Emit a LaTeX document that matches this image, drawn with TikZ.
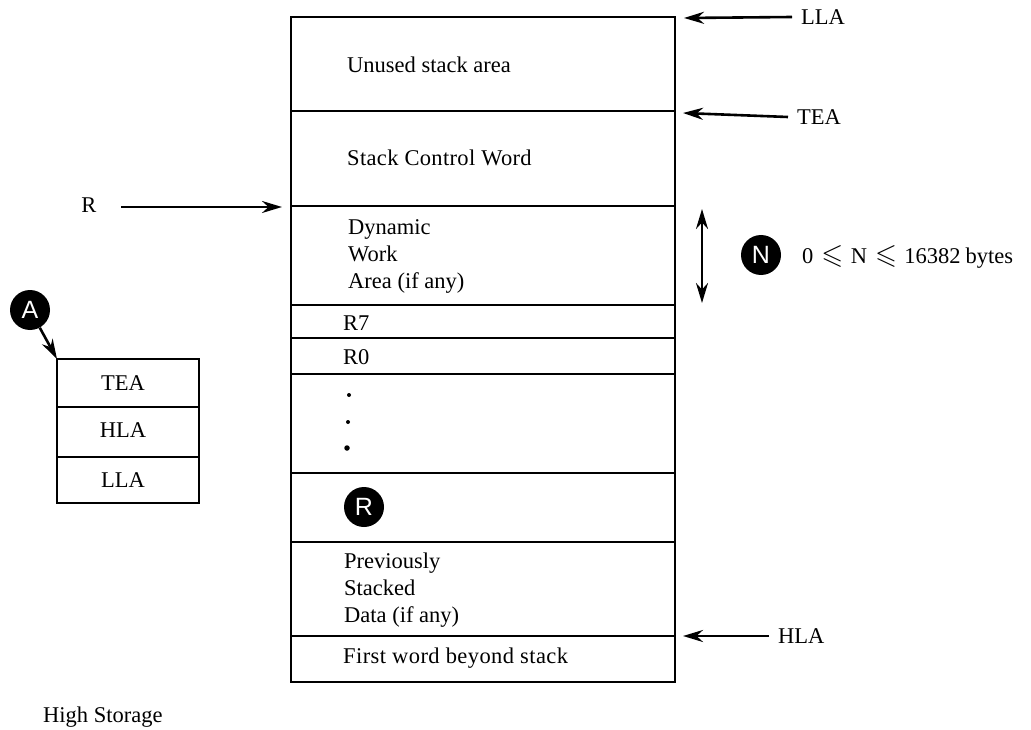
\documentclass[tikz,border=0pt]{standalone}
\usepackage{amssymb}
\usepackage{fontspec}
\setmainfont{Liberation Serif}
\setsansfont{Liberation Sans}
\usetikzlibrary{arrows.meta}
\usetikzlibrary{positioning}

\newcommand{\leqmark}{\hspace{8pt}\scalebox{1.25}{$\leqslant$}\hspace{7.5pt}}

\tikzset{
	cell/.style={draw, line width=1.8pt, rectangle, inner sep=0pt, outer sep=0pt, anchor=north west},
	label/.style={font=\fontsize{22.5}{27}\selectfont, inner sep=0pt},
	words/.style={label, anchor=west, align=left},
	tag/.style={circle, fill=black, text=white, inner sep=0pt, minimum size=40pt, font=\sffamily\fontsize{25}{25}\selectfont},
	spot/.style={circle, fill=black, inner sep=0pt},
	pointer/.style={-{Stealth[length=20pt, width=12pt]}, line width=2.6pt}
}

\begin{document}
\begin{tikzpicture}[x=1pt, y=-1pt]
	\useasboundingbox (0, 0) rectangle (1031, 730);

	% stack cells
	\foreach \name/\top/\high in {unused/17/94, control/111/95, work/206/99, rseven/305/33, rzero/338/36, dots/374/99, save/473/69, data/542/94, beyond/636/46}{
		\draw (291, \top) node[cell, minimum width=384pt, minimum height=\high pt] (\name) {};
	}

	\draw (347, 65) node[words] (unusedtext) {Unused stack area};
	\draw (347, 158) node[words] (controltext) {\addfontfeature{LetterSpace=1.5}Stack Control Word};
	\draw (348, 256) node[words] (worktext) {Dynamic\\Work\\Area (if any)};
	\draw (343, 323) node[words] (rseventext) {R7};
	\draw (343, 357) node[words] (rzerotext) {R0};
	\draw (344, 590) node[words] (datatext) {Previously\\Stacked\\Data (if any)};
	\draw (343, 658) node[words] (beyondtext) {\addfontfeature{LetterSpace=1.9}First word beyond stack};
	\foreach \x/\y/\size in {349/395/4, 348/422/4, 347/448/5.5}{
		\draw (\x, \y) node[spot, minimum size=\size pt] (dot\y) {};
	}
	\draw (364, 507) node[tag] (rtag) {R};

	% register save area
	\foreach \name/\top/\high/\y/\text in {savetea/359/48/383/TEA, savehla/407/50/430/HLA, savella/457/46/480/LLA}{
		\draw (57, \top) node[cell, minimum width=142pt, minimum height=\high pt] (\name) {};
		\draw (123, \y) node[label] (\name text) {\text};
	}
	\draw (30, 310) node[tag] (atag) {A};
	\draw[pointer] (atag) -- (savetea.north west);

	% pointers on the right
	\draw (801, 17) node[words] (lla) {LLA};
	\draw (797, 117) node[words] (tea) {TEA};
	\draw (778, 636) node[words] (hla) {HLA};
	\draw (89, 205) node[label] (r) {R};
	\coordinate (llatail) at (792, 17);
	\coordinate (teatail) at (788, 117);
	\coordinate (hlatail) at (769, 636);
	\coordinate (rtail) at (121, 207);
	\coordinate (llaend) at (684, 18);
	\coordinate (teaend) at (683, 113);
	\coordinate (hlaend) at (683, 636);
	\coordinate (rend) at (282, 207);
	\draw[pointer] (llatail) -- (llaend);
	\draw[pointer] (teatail) -- (teaend);
	\draw[pointer] (hlatail) -- (hlaend);
	\draw[pointer] (rtail) -- (rend);

	% size of the work area
	\coordinate (sizetop) at (702, 209);
	\coordinate (sizebottom) at (702, 303);
	\draw[{Stealth[length=20pt, width=12pt]}-{Stealth[length=20pt, width=12pt]}, line width=2.6pt] (sizetop) -- (sizebottom);
	\draw (761, 255) node[tag] (ntag) {N};
	\draw (802, 257) node[words] (sizetext) {0\leqmark N\leqmark 16382\hspace{5pt}bytes};

	\draw (43, 717) node[words] (storage) {High Storage};
\end{tikzpicture}
\end{document}
